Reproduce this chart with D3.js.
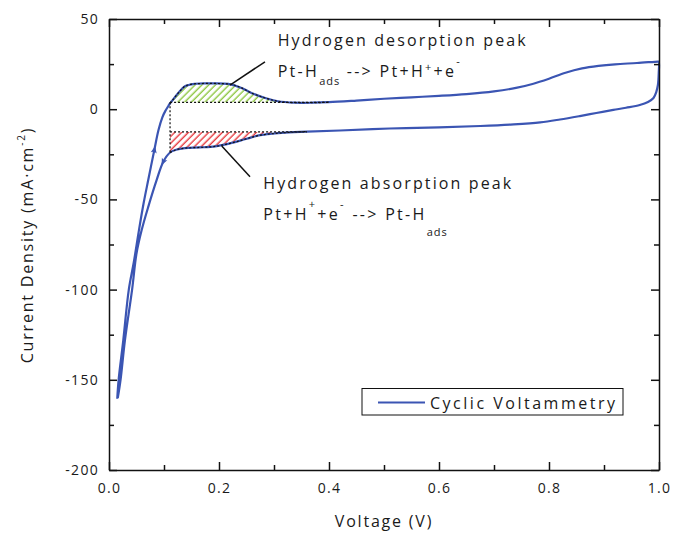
<!DOCTYPE html>
<html><head><meta charset="utf-8">
<script src="https://cdn.jsdelivr.net/npm/d3@7"></script>
<style>
body{margin:0;background:#fff;}
svg text{font-family:"Open Sans",sans-serif;fill:#1a1a1a;}
</style></head><body>
<svg id="c" width="675" height="533"></svg>
<script>
// ---- data (V in volts, J in mA/cm^2) ----
const forwardV = [0.015,0.0175,0.026,0.036,0.045,0.0545,0.063,0.0715,0.0824,0.09,0.097,0.102,0.108,0.111,0.114,0.126,0.138,0.156,0.185,0.217,0.241,0.259,0.284,0.307,0.338,0.37,0.40,0.45,0.50,0.55,0.60,0.65,0.70,0.74,0.77,0.80,0.83,0.86,0.89,0.92,0.96,0.998];
const forwardJ = [-160.5,-150,-128,-100,-85,-67,-52,-39,-22.6,-11.5,-4.5,-1.2,1.8,3.3,4.4,9.0,12.7,14.1,14.3,14.0,11.8,9.0,6.2,4.4,3.6,3.6,3.9,4.8,5.8,6.6,7.4,8.4,9.9,11.8,14.0,16.9,20.2,22.6,24.0,24.9,25.6,26.4];
const reverseV = [0.9995,0.9995,0.998,0.995,0.99,0.98,0.965,0.94,0.917,0.886,0.856,0.82,0.784,0.73,0.675,0.60,0.51,0.42,0.36,0.32,0.296,0.275,0.259,0.24,0.223,0.193,0.165,0.138,0.122,0.111,0.0987,0.0867,0.0715,0.0594,0.05,0.042,0.029,0.021,0.016];
const reverseJ = [26.4,20,13.4,9.5,6.2,4.0,2.3,0.8,-0.4,-2.1,-3.8,-5.7,-7.3,-8.5,-9.3,-10.1,-10.7,-11.8,-12.4,-13.0,-13.6,-14.4,-15.6,-17.3,-18.7,-20.6,-21.2,-21.6,-22.5,-24.0,-29.1,-39.2,-54,-67,-80,-100,-128,-150,-160];

const xMajor = [0,0.2,0.4,0.6,0.8,1.0];
const xTickLabels = ['0.0','0.2','0.4','0.6','0.8','1.0'];
const xMinor = [0.1,0.3,0.5,0.7,0.9];
const yMajor = [-200,-150,-100,-50,0,50];
const yTickLabels = ['-200','-150','-100','-50','0','50'];
const yMinor = [-175,-125,-75,-25,25];

const peakStartV = 0.111;
const desorptionBase = 3.8, desorptionEndV = 0.40;
const absorptionBase = -12.6, absorptionEndV = 0.36;
const arrowAtForward = 0.0824, arrowAtReverse = 0.0987;

const leaderDes = [[0.22,13.4],[0.2836,26.3]];
const leaderAbs = [[0.205,-20.4],[0.2564,-37.4]];
const labelDesPos = [0.3067,35.0,17.7];
const labelAbsPos = [0.2805,-44.2,-61.4];
const seriesName = 'Cyclic Voltammetry';

// ---- setup ----
const svg = d3.select('#c');
const x = d3.scaleLinear().domain([0,1]).range([109,659]);
const y = d3.scaleLinear().domain([-200,50]).range([470,19]);
const blue = '#3b55b3';

const defs = svg.append('defs');
function hatch(id,color){
  const p = defs.append('pattern').attr('id',id).attr('patternUnits','userSpaceOnUse')
    .attr('width',4.8).attr('height',10).attr('patternTransform','rotate(45)');
  p.append('line').attr('x1',1.2).attr('x2',1.2).attr('y1',0).attr('y2',10)
    .attr('stroke',color).attr('stroke-width',1.4);
}
hatch('hg','#8cc63f');
hatch('hr','#e8383d');

const fwd = forwardV.map((v,i)=>[v,forwardJ[i]]);
const rev = reverseV.map((v,i)=>[v,reverseJ[i]]);
const loop = fwd.concat(rev);

// hatched regions
const desPts = fwd.filter(d=>d[0]>=peakStartV && d[0]<=desorptionEndV);
const absPts = rev.filter(d=>d[0]>=peakStartV && d[0]<=absorptionEndV).reverse();
svg.append('path').datum(desPts)
  .attr('d', d3.area().x(d=>x(d[0])).y0(y(desorptionBase)).y1(d=>y(Math.max(d[1],desorptionBase))).curve(d3.curveMonotoneX))
  .attr('fill','url(#hg)');
svg.append('path').datum(absPts)
  .attr('d', d3.area().x(d=>x(d[0])).y0(y(absorptionBase)).y1(d=>y(Math.min(d[1],absorptionBase))).curve(d3.curveMonotoneX))
  .attr('fill','url(#hr)');

// main curve
const line = d3.line().x(d=>x(d[0])).y(d=>y(d[1])).curve(d3.curveCatmullRom.alpha(0.5));
svg.append('path').datum(loop).attr('d',line).attr('fill','none')
  .attr('stroke',blue).attr('stroke-width',2.2).attr('stroke-linejoin','round');

// dotted outlines
const dot = g=>g.attr('fill','none').attr('stroke','#111').attr('stroke-width',1.2).attr('stroke-dasharray','2,2');
svg.append('path').datum(desPts).attr('d',d3.line().x(d=>x(d[0])).y(d=>y(d[1])).curve(d3.curveMonotoneX)).call(dot);
svg.append('path').datum(absPts).attr('d',d3.line().x(d=>x(d[0])).y(d=>y(d[1])).curve(d3.curveMonotoneX)).call(dot);
svg.append('line').attr('x1',x(peakStartV)).attr('x2',x(desorptionEndV)).attr('y1',y(desorptionBase)).attr('y2',y(desorptionBase)).call(dot);
svg.append('line').attr('x1',x(peakStartV)).attr('x2',x(absorptionEndV)).attr('y1',y(absorptionBase)).attr('y2',y(absorptionBase)).call(dot);
const revStartJ = rev.find(d=>Math.abs(d[0]-peakStartV)<1e-6)[1];
svg.append('line').attr('x1',x(peakStartV)).attr('x2',x(peakStartV)).attr('y1',y(desorptionBase)).attr('y2',y(revStartJ)).call(dot);

// arrowheads
function arrow(pts,v){
  const i = pts.findIndex(d=>Math.abs(d[0]-v)<1e-6);
  const a = pts[i-1], b = pts[i+1], c = pts[i];
  const ang = Math.atan2(y(b[1])-y(a[1]), x(b[0])-x(a[0]))*180/Math.PI;
  svg.append('path').attr('d','M4,0 L-3,-3 L-1.5,0 L-3,3 Z')
    .attr('transform',`translate(${x(c[0])},${y(c[1])}) rotate(${ang})`).attr('fill',blue);
}
arrow(fwd,arrowAtForward);
arrow(rev,arrowAtReverse);

// axes
const axisStyle = g=>{
  g.selectAll('path,line').attr('stroke','#111').attr('stroke-width',1.5);
  g.selectAll('text').attr('font-size',14).attr('letter-spacing','1.3px').attr('fill','#1a1a1a').attr('font-family','"Open Sans",sans-serif');
};
svg.append('g').attr('transform','translate(0,470)')
  .call(d3.axisBottom(x).tickValues(xMajor).tickFormat((d,i)=>xTickLabels[i]).tickSizeInner(-8).tickSizeOuter(0).tickPadding(13)).call(axisStyle);
svg.append('g').attr('transform','translate(0,470)')
  .call(d3.axisBottom(x).tickValues(xMinor).tickFormat('').tickSizeInner(-5).tickSizeOuter(0)).call(axisStyle).select('.domain').remove();
svg.append('g').attr('transform','translate(0,19)')
  .call(d3.axisTop(x).tickValues(xMajor).tickFormat('').tickSizeInner(-8).tickSizeOuter(0)).call(axisStyle);
svg.append('g').attr('transform','translate(0,19)')
  .call(d3.axisTop(x).tickValues(xMinor).tickFormat('').tickSizeInner(-5).tickSizeOuter(0)).call(axisStyle).select('.domain').remove();
svg.append('g').attr('transform','translate(109,0)')
  .call(d3.axisLeft(y).tickValues(yMajor).tickFormat((d,i)=>yTickLabels[i]).tickSizeInner(-8).tickSizeOuter(0).tickPadding(10)).call(axisStyle);
svg.append('g').attr('transform','translate(109,0)')
  .call(d3.axisLeft(y).tickValues(yMinor).tickFormat('').tickSizeInner(-5).tickSizeOuter(0)).call(axisStyle).select('.domain').remove();
svg.append('g').attr('transform','translate(659,0)')
  .call(d3.axisRight(y).tickValues(yMajor).tickFormat('').tickSizeInner(-8).tickSizeOuter(0)).call(axisStyle);
svg.append('g').attr('transform','translate(659,0)')
  .call(d3.axisRight(y).tickValues(yMinor).tickFormat('').tickSizeInner(-5).tickSizeOuter(0)).call(axisStyle).select('.domain').remove();

// axis titles
svg.append('text').attr('x',384).attr('y',527).attr('text-anchor','middle')
  .attr('font-size',16).attr('letter-spacing','1.8px').text('Voltage (V)');
const yt = svg.append('text').attr('transform','translate(33,245) rotate(-90)').attr('text-anchor','middle')
  .attr('font-size',16).attr('letter-spacing','1.8px');
yt.append('tspan').text('Current Density (mA·cm');
yt.append('tspan').attr('dy',-8).attr('font-size',10).text('-2');
yt.append('tspan').attr('dy',8).text(')');

// leaders
[leaderDes,leaderAbs].forEach(L=>{
  svg.append('line').attr('x1',x(L[0][0])).attr('y1',y(L[0][1])).attr('x2',x(L[1][0])).attr('y2',y(L[1][1]))
    .attr('stroke','#111').attr('stroke-width',1.5);
});

// annotation text
const ann = (v,j,fs)=>svg.append('text').attr('x',x(v)).attr('y',y(j)).attr('font-size',fs).attr('letter-spacing','2.3px');
ann(labelDesPos[0],labelDesPos[1],16).attr('textLength',248).attr('lengthAdjust','spacing').attr('letter-spacing',null).text('Hydrogen desorption peak');
let t = ann(labelDesPos[0],labelDesPos[2],16);
t.append('tspan').text('Pt-H');
t.append('tspan').attr('dy',8).attr('font-size',11).attr('letter-spacing','1px').text('ads');
t.append('tspan').attr('dy',-8).text(' --> Pt+H');
t.append('tspan').attr('dy',-6).attr('font-size',11).text('+');
t.append('tspan').attr('dy',6).text('+e');
t.append('tspan').attr('dy',-12).attr('font-size',11).text('-');

ann(labelAbsPos[0],labelAbsPos[1],16).attr('textLength',248).attr('lengthAdjust','spacing').attr('letter-spacing',null).text('Hydrogen absorption peak');
t = ann(labelAbsPos[0],labelAbsPos[2],16);
t.append('tspan').text('Pt+H');
t.append('tspan').attr('dy',-12).attr('font-size',11).text('+');
t.append('tspan').attr('dy',12).text('+e');
t.append('tspan').attr('dy',-12).attr('font-size',11).text('-');
t.append('tspan').attr('dy',12).text(' --> Pt-H');
t.append('tspan').attr('dy',16).attr('font-size',11).attr('letter-spacing','1px').text('ads');

// legend
const lg = svg.append('g');
lg.append('rect').attr('x',362).attr('y',388.5).attr('width',261).attr('height',26.5)
  .attr('fill','#fff').attr('stroke','#111').attr('stroke-width',1);
lg.append('line').attr('x1',378).attr('x2',425).attr('y1',402.5).attr('y2',402.5).attr('stroke',blue).attr('stroke-width',2.2);
lg.append('text').attr('x',430).attr('y',408.5).attr('font-size',16).attr('textLength',185).attr('lengthAdjust','spacing').text(seriesName);
</script>
</body></html>
